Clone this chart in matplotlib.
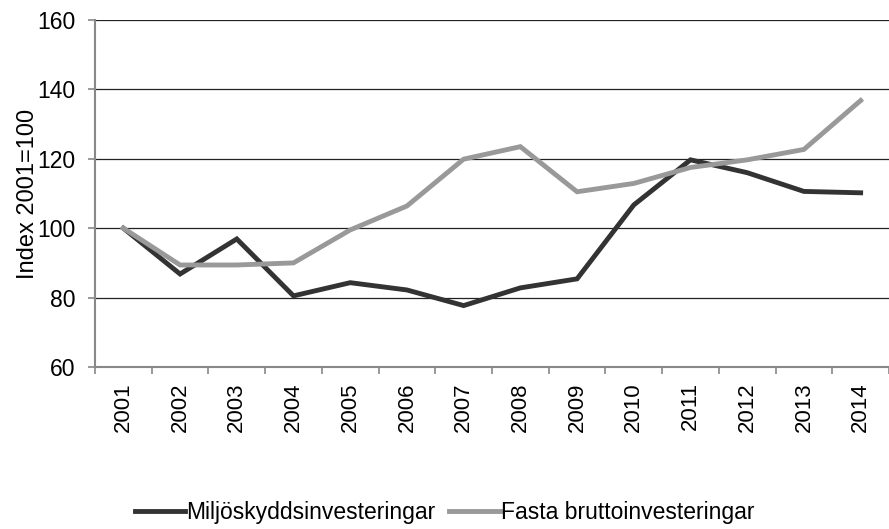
import matplotlib
matplotlib.use("Agg")
import matplotlib.pyplot as plt
import numpy as np

plt.rcParams['font.family'] = ['Liberation Sans', 'DejaVu Sans']

years = ['2001', '2002', '2003', '2004', '2005', '2006', '2007',
         '2008', '2009', '2010', '2011', '2012', '2013', '2014']
miljo = [100, 86.8, 96.9, 80.5, 84.3, 82.2, 77.7,
         82.8, 85.4, 106.7, 119.7, 116.0, 110.6, 110.2]
fasta = [100, 89.4, 89.4, 90.0, 99.5, 106.4, 119.9,
         123.5, 110.5, 112.9, 117.5, 119.7, 122.7, 136.8]

fig = plt.figure(figsize=(8.89, 5.29), dpi=100)
ax = fig.add_axes([95 / 889, 1 - 367 / 529, 794 / 889, 347 / 529])

x = np.arange(len(years))
ax.plot(x, miljo, color='#333333', lw=3.5, solid_joinstyle='miter',
        label='Miljöskyddsinvesteringar', zorder=3)
ax.plot(x, fasta, color='#999999', lw=3.5, solid_joinstyle='miter',
        label='Fasta bruttoinvesteringar', zorder=3)

ax.set_xlim(-0.5, len(years) - 0.5)
ax.set_ylim(60, 160)
ax.set_yticks(range(60, 161, 20))
ax.yaxis.grid(True, color='#222222', lw=0.9)
ax.set_axisbelow(True)

ax.set_xticks(x)
ax.set_xticklabels(years, rotation=90, fontsize=16)
ax.set_xticks(np.arange(-0.5, len(years), 1), minor=True)
ax.tick_params(axis='x', which='major', length=0, pad=11)
ax.tick_params(axis='x', which='minor', length=5, width=1.2, color='#888888', direction='out')
ax.tick_params(axis='y', length=5, width=1.2, color='#888888', labelsize=16.5, pad=9)

for s in ['top', 'right']:
    ax.spines[s].set_visible(False)
for s in ['left', 'bottom']:
    ax.spines[s].set_color('#888888')
    ax.spines[s].set_linewidth(1.5)

ax.set_ylabel('Index 2001=100', fontsize=17)
ax.yaxis.set_label_coords(-0.07, 0.5)

fig.legend(loc='center', bbox_to_anchor=(0.5, 1 - 513 / 529), ncol=2, frameon=False,
           fontsize=16.5, handlelength=2.2, handletextpad=0.05, columnspacing=0.6)

fig.savefig('out.png', dpi=100)
